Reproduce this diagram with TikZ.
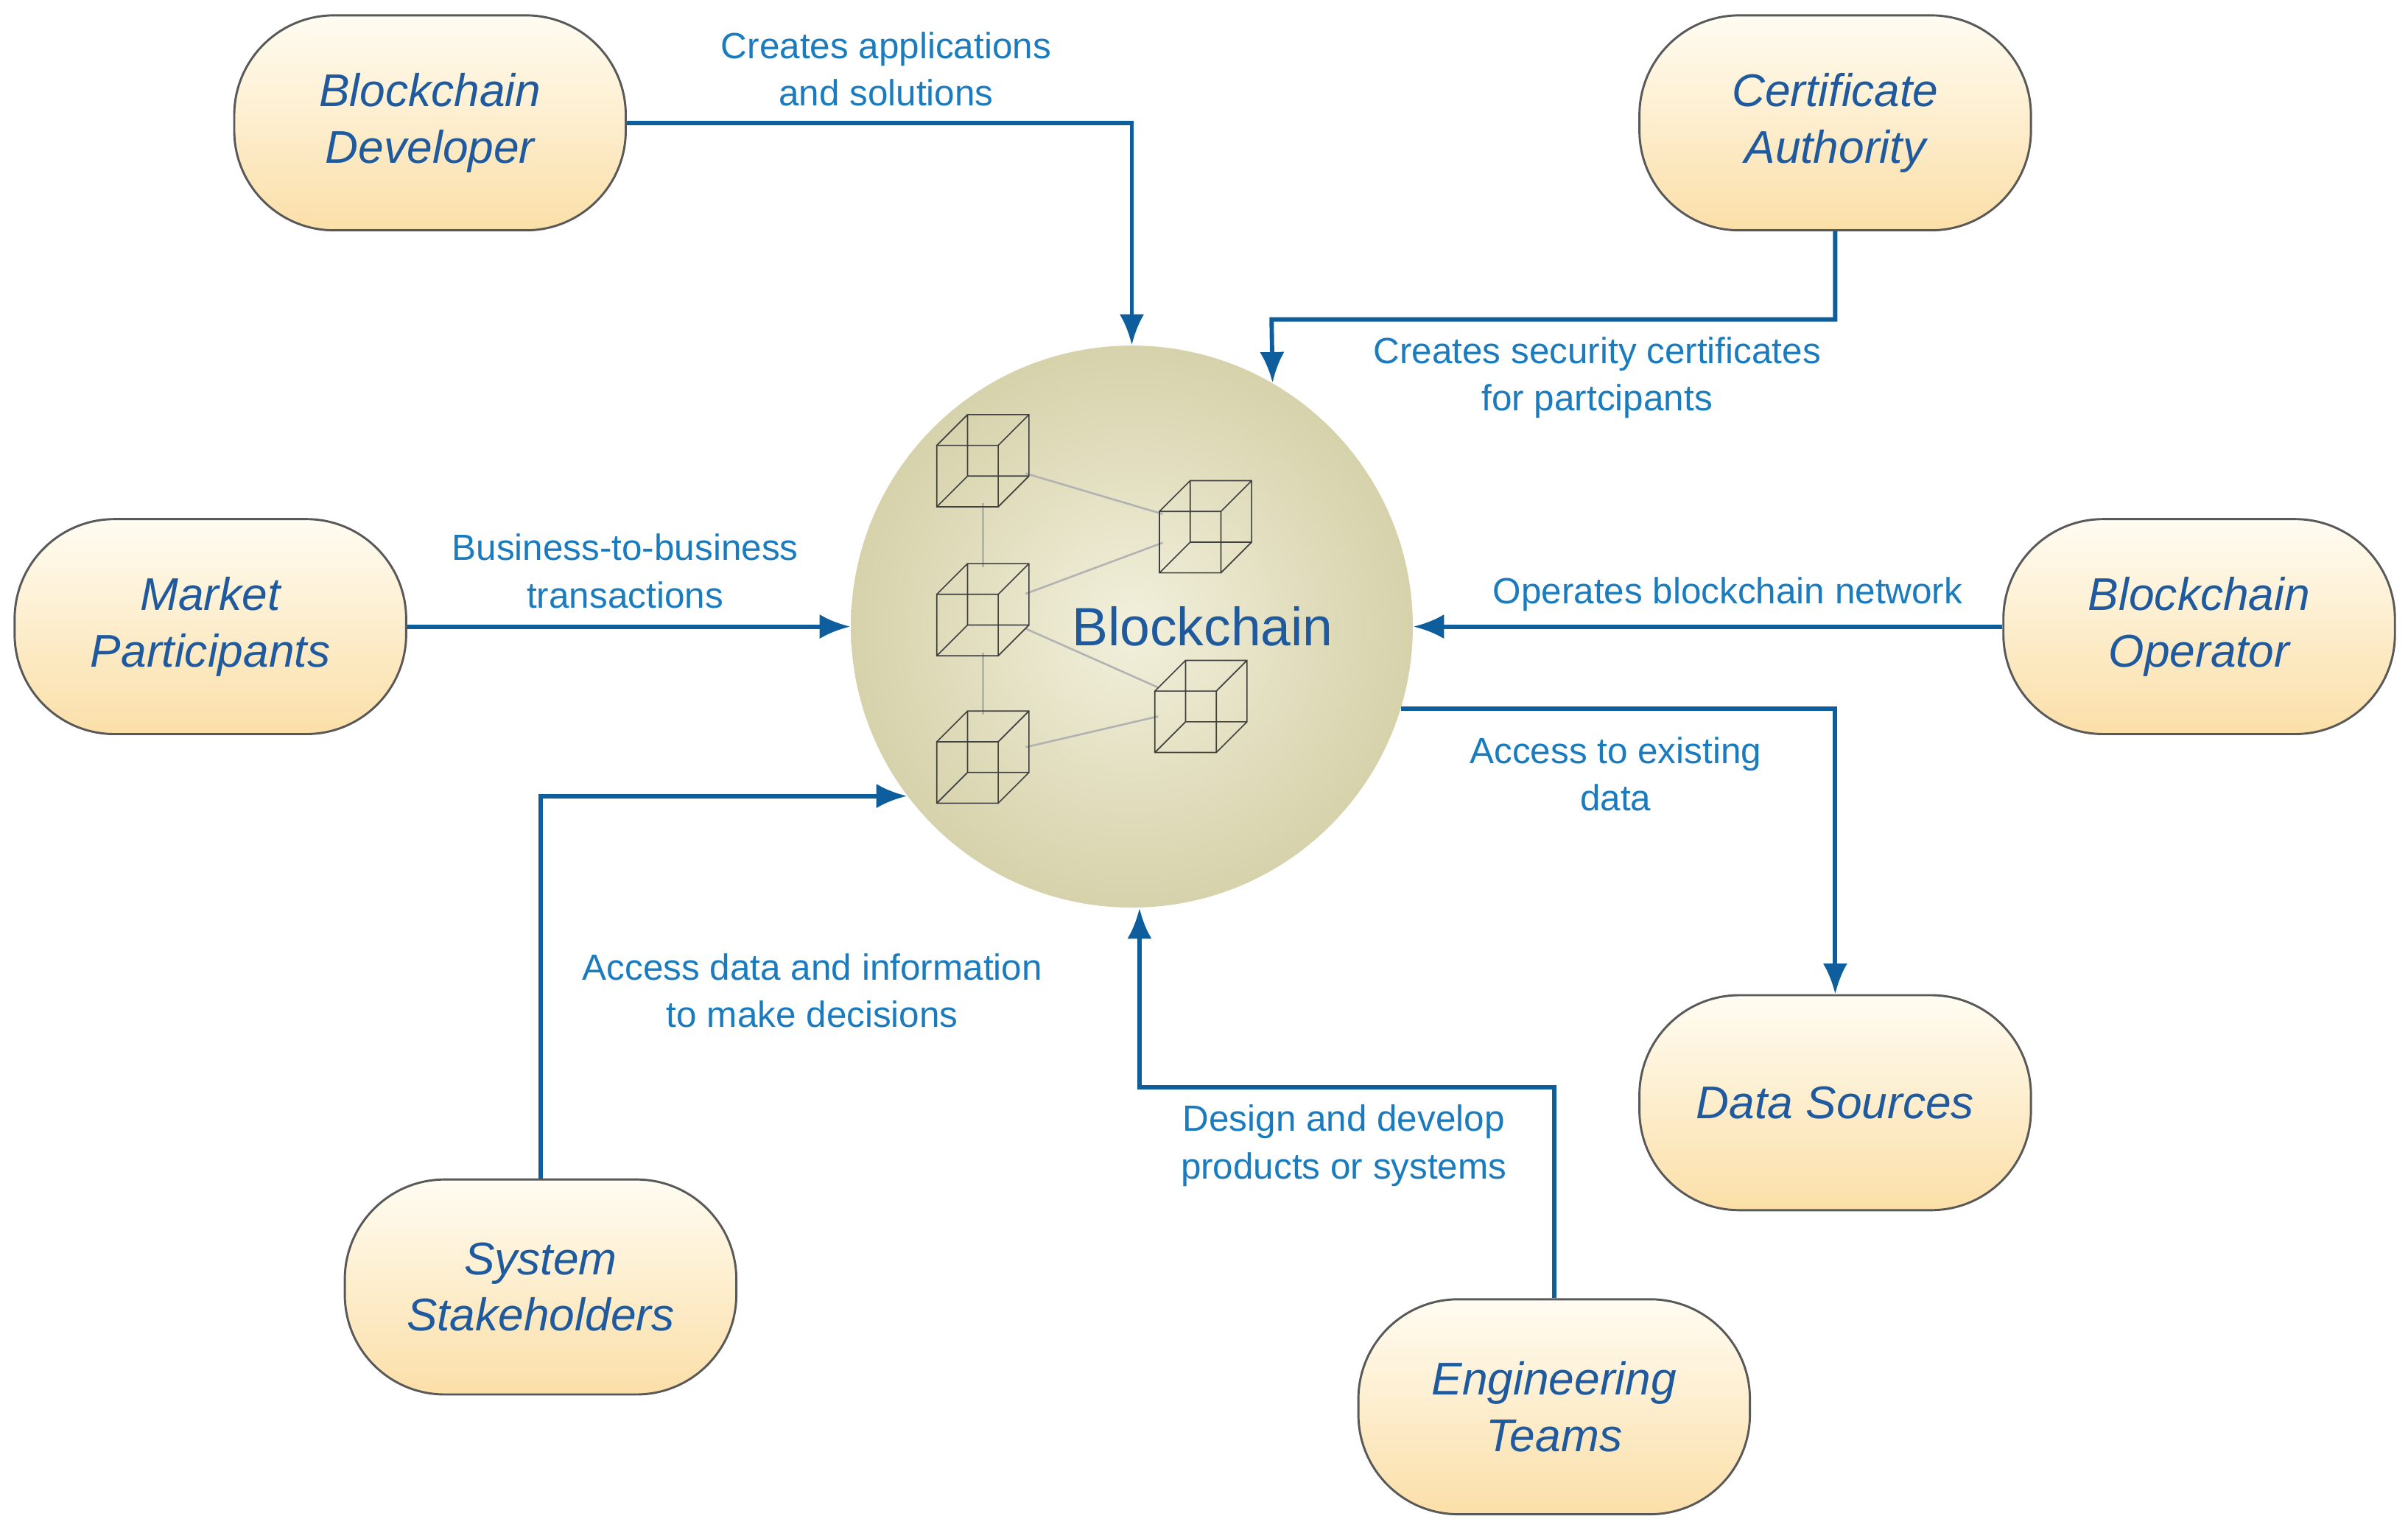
\documentclass[tikz,border=0pt]{standalone}
\usepackage{fontspec}
\setmainfont{Liberation Sans}
\usetikzlibrary{arrows.meta, positioning, calc}
\definecolor{actorblue}{HTML}{1F5A9E}
\definecolor{labelblue}{HTML}{1A7BBE}
\definecolor{linkblue}{HTML}{0E5E9E}
\definecolor{boxtop}{HTML}{FFFCF2}
\definecolor{boxbottom}{HTML}{FBDFA8}
\definecolor{ballin}{HTML}{F2F0DC}
\definecolor{ballout}{HTML}{D6D2AB}

\begin{document}
\begin{tikzpicture}[
        x=0.02cm, y=-0.02cm,
        >={Latex[width=3.2mm,length=4mm]},
        actor/.style={draw=gray!70!black, thick, rectangle, rounded corners=1.3cm,
            minimum width=5.1cm, minimum height=2.8cm, align=center,
            top color=boxtop, bottom color=boxbottom,
            font=\fontsize{17}{21}\selectfont\itshape, text=actorblue},
        hub/.style={circle, minimum size=7.32cm, inner color=ballin, outer color=ballout,
            font=\fontsize{20}{24}\selectfont, text=actorblue},
        label/.style={align=center, text=labelblue, font=\fontsize{13.5}{17.6}\selectfont},
        arrow/.style={->, line width=1.6pt, color=linkblue},
        block/.style={minimum size=1.1cm, inner sep=0pt},
        link/.style={gray!60, line width=0.7pt},
        cube/.pic={
            \draw[gray!50!black, line width=0.45pt]
                (-30,-10) rectangle (10,30)
                (-10,-30) rectangle (30,10)
                (-30,-10) -- (-10,-30) (10,-10) -- (30,-30)
                (10,30) -- (30,10) (-30,30) -- (-10,10);
        },
    ]
    \useasboundingbox (0,0) rectangle (1568,996);

    % Hub
    \node[hub] (bc) at (737,408) {};
    \node[text=actorblue, font=\fontsize{20}{24}\selectfont] (bcname) at (783,408) {Blockchain};

    % Blocks
    \node[block] (b1) at (640,300) {};
    \node[block] (b2) at (785,343) {};
    \node[block] (b3) at (640,397) {};
    \node[block] (b4) at (640,493) {};
    \node[block] (b5) at (782,460) {};
    \draw[link] (b1) -- (b2);
    \draw[link] (b3) -- (b2);
    \draw[link] (b3) -- (b5);
    \draw[link] (b4) -- (b5);
    \draw[link] (b1) -- (b3);
    \draw[link] (b3) -- (b4);
    \foreach \b in {b1,b2,b3,b4,b5}
        \pic at (\b) {cube};

    % Actors
    \node[actor] (dev) at (280,80) {Blockchain\\Developer};
    \node[actor] (ca) at (1195,80) {Certificate\\Authority};
    \node[actor] (mp) at (137,408) {Market\\Participants};
    \node[actor] (bo) at (1432,408) {Blockchain\\Operator};
    \node[actor] (ds) at (1195,718) {Data Sources};
    \node[actor] (ss) at (352,838) {System\\Stakeholders};
    \node[actor] (et) at (1012,916) {Engineering\\Teams};

    % Labels
    \node[label] (ldev) at (577,45) {Creates applications\\and solutions};
    \node[label] (lca) at (1040,246) {Creates security certificates\\for partcipants};
    \node[label] (lmp) at (407,372) {Business-to-business\\transactions};
    \node[label] (lbo) at (1125,387) {Operates blockchain network};
    \node[label] (lds) at (1052,504) {Access to existing\\data};
    \node[label] (lss) at (529,645) {Access data and information\\to make decisions};
    \node[label] (let) at (875,746) {Design and develop\\products or systems};

    % Arrows
    \coordinate (caturn) at (828,208);
    \coordinate (etturn) at (742,708);
    \draw[arrow] (dev.east) -| (bc.north);
    \draw[arrow] (ca.south) |- (caturn) -- (bc.60);
    \draw[arrow] (mp.east) -- (bc.west);
    \draw[arrow] (bo.west) -- (bc.east);
    \draw[arrow] (bc.-17) -| (ds.north);
    \draw[arrow] (ss.north) |- (bc.217);
    \draw[arrow] (et.north) |- (etturn) -- (etturn |- bc.south);

\end{tikzpicture}
\end{document}
